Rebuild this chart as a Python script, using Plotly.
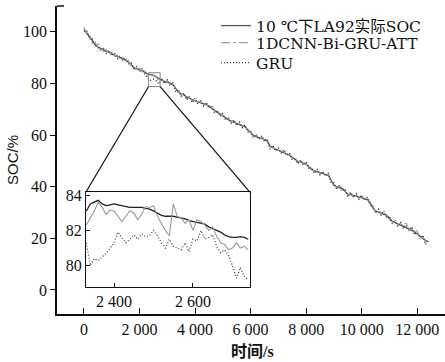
import plotly.graph_objects as go

# ---------------- data ----------------
time_s = list(range(0, 12500, 100))

soc_actual = [101.0, 99.6, 98.1, 96.4, 95.2, 94.1, 93.6, 93.0, 92.4, 92.1,
              91.5, 91.0, 90.4, 90.0, 89.7, 89.0, 88.4, 87.3, 86.1, 85.7,
              85.4, 84.9, 84.3, 83.6, 83.4, 83.2, 82.6, 81.8, 81.3, 80.8,
              80.5, 80.2, 79.6, 77.9, 76.6, 76.0, 75.4, 74.6, 74.1, 73.7,
              73.3, 72.9, 72.6, 72.2, 71.8, 71.3, 70.4, 69.5, 68.8, 68.2,
              67.4, 66.7, 66.0, 65.4, 65.0, 64.5, 64.1, 63.7, 63.2, 62.1,
              60.8, 59.9, 59.4, 59.1, 58.8, 58.3, 57.6, 55.8, 55.1, 54.6,
              54.2, 53.8, 53.4, 52.9, 52.2, 51.4, 50.5, 49.8, 49.5, 49.2,
              48.8, 47.7, 46.6, 46.1, 45.8, 45.5, 45.2, 44.9, 44.4, 42.6,
              40.6, 40.0, 39.7, 39.3, 38.2, 37.1, 36.9, 36.6, 36.4, 36.1,
              35.8, 35.5, 35.1, 33.9, 31.8, 30.6, 30.2, 29.9, 29.6, 28.9,
              27.6, 26.6, 26.1, 25.6, 25.2, 24.8, 24.3, 23.9, 23.4, 22.6,
              21.7, 20.8, 20.0, 19.2, 18.6]

soc_cnn = [101.8, 99.0, 98.9, 95.6, 96.0, 93.3, 94.2, 92.4, 93.1, 91.5,
           92.0, 90.6, 91.0, 89.5, 90.3, 88.6, 88.9, 86.8, 86.6, 85.2,
           85.9, 84.5, 84.8, 82.9, 82.7, 83.0, 82.4, 81.2, 81.7, 80.3,
           80.9, 79.8, 79.9, 77.4, 76.9, 75.6, 75.8, 74.1, 74.5, 73.2,
           73.6, 72.5, 72.9, 71.8, 72.1, 70.9, 70.8, 69.1, 69.2, 67.8,
           67.7, 66.3, 66.4, 65.0, 65.4, 64.1, 64.5, 63.3, 63.5, 61.7,
           61.2, 59.5, 59.8, 58.7, 59.2, 57.9, 58.1, 55.3, 55.5, 54.2,
           54.6, 53.4, 53.8, 52.5, 52.6, 51.0, 50.9, 49.4, 49.9, 48.8,
           49.1, 47.3, 47.0, 45.7, 46.2, 45.1, 45.6, 44.5, 44.8, 42.2,
           41.0, 39.6, 40.1, 38.9, 38.6, 36.7, 37.4, 36.2, 36.9, 35.7,
           36.2, 35.1, 35.6, 33.5, 32.3, 30.2, 30.7, 29.5, 30.1, 28.4,
           28.1, 26.2, 26.6, 25.1, 25.7, 24.3, 24.8, 23.4, 23.9, 22.1,
           22.2, 20.3, 20.6, 18.7, 19.1]

soc_gru = [100.2, 100.5, 97.2, 97.5, 94.3, 95.2, 92.6, 93.9, 91.6, 92.9,
           90.7, 91.8, 89.6, 90.8, 88.8, 89.9, 87.5, 88.0, 85.2, 86.5,
           84.6, 85.7, 83.5, 81.9, 81.2, 81.6, 81.0, 79.8, 82.0, 79.9,
           81.4, 79.1, 80.5, 76.7, 77.6, 75.0, 76.3, 73.7, 75.0, 72.6,
           74.2, 72.0, 73.5, 71.3, 72.7, 70.5, 71.3, 68.6, 69.7, 67.3,
           68.3, 65.8, 66.9, 64.6, 65.9, 63.7, 65.0, 62.9, 64.0, 61.2,
           61.6, 59.0, 60.3, 58.3, 59.7, 57.5, 58.5, 54.6, 56.0, 53.9,
           55.0, 53.0, 54.4, 52.1, 53.0, 50.4, 51.3, 48.9, 50.4, 48.3,
           49.6, 46.8, 47.4, 45.2, 46.7, 44.6, 46.0, 44.1, 45.3, 41.7,
           41.5, 38.9, 40.6, 38.4, 39.2, 36.0, 37.9, 35.8, 37.3, 35.2,
           36.8, 34.7, 36.0, 33.0, 32.7, 29.8, 31.3, 29.1, 30.7, 27.9,
           28.6, 25.7, 27.2, 24.6, 26.3, 23.8, 25.9, 22.9, 24.5, 21.4,
           23.0, 19.8, 21.2, 17.6, 19.5]

# zoomed detail (inset), 2 330 s – 2 740 s
inset_time = list(range(2330, 2750, 10))
inset_actual = [83.1, 83.5, 83.6, 83.7, 83.5, 83.4, 83.45, 83.5, 83.45, 83.4,
                83.35, 83.3, 83.3, 83.3, 83.3, 83.25, 83.2, 83.1, 82.95, 82.85,
                82.8, 82.8, 82.8, 82.75, 82.7, 82.65, 82.55, 82.5, 82.45, 82.4,
                82.35, 82.2, 82.1, 82.0, 81.9, 81.75, 81.65, 81.6, 81.6, 81.65,
                81.6, 81.5]
inset_cnn = [82.3, 82.7, 83.1, 83.6, 83.3, 82.9, 83.15, 83.1, 82.8, 82.5,
             82.8, 83.1, 83.0, 82.6, 82.9, 83.35, 83.3, 83.4, 82.8, 82.4,
             82.0, 81.7, 83.5, 82.8, 82.7, 82.4, 82.6, 82.0, 82.6, 82.5,
             82.3, 82.0, 82.2, 81.65, 81.3, 81.2, 80.9, 81.0, 81.3, 81.0,
             81.1, 80.9]
inset_gru = [81.3, 80.0, 80.4, 80.3, 80.5, 80.7, 81.0, 81.3, 81.9, 81.6,
             81.3, 81.5, 81.75, 81.5, 81.8, 81.65, 81.7, 82.0, 81.7, 81.3,
             81.0, 81.5, 81.1, 81.0, 80.9, 81.3, 80.8, 81.5, 81.4, 82.0,
             81.5, 81.6, 81.75, 81.1, 80.75, 80.9, 80.6, 80.0, 79.3, 79.9,
             79.4, 79.2]

series_names = ["10 ℃下LA92实际SOC", "1DCNN-Bi-GRU-ATT", "GRU"]
x_ticks = [0, 2000, 4000, 6000, 8000, 10000, 12000]
x_ticktext = ["0", "2 000", "4 000", "6 000", "8 000", "10 000", "12 000"]
y_ticks = [0, 20, 40, 60, 80, 100]
inset_x_ticks = [2400, 2600]
inset_x_ticktext = ["2 400", "2 600"]
inset_y_ticks = [80, 82, 84]

# ---------------- styling ----------------
FONT = "Liberation Serif, 'Times New Roman', 'Noto Sans CJK SC', serif"
LEG_FONT = "'DejaVu Serif', 'Noto Sans CJK SC', serif"

XR = [-970, 13000]
YR = [-9.3, 110]
IXR = [2329, 2744]
IYR = [78.8, 84.17]
IXD = [0.0747, 0.497]
IYD = [0.0877, 0.396]

fig = go.Figure()
styles = [dict(color="#555555", width=1.3, dash="solid"),
          dict(color="#a0a0a0", width=1.2, dash="dashdot"),
          dict(color="#333333", width=1.3, dash="1px,2px")]
legend_ids = ["legend", "legend2", "legend3"]

for name, ys, st, lg in zip(series_names, [soc_actual, soc_cnn, soc_gru], styles, legend_ids):
    fig.add_trace(go.Scatter(x=time_s, y=ys, mode="lines", name=name,
                             line=st, xaxis="x", yaxis="y", legend=lg))

inset_styles = [dict(color="#222222", width=1.3, dash="solid"),
                dict(color="#9a9a9a", width=1.1, dash="solid"),
                dict(color="#444444", width=1.3, dash="1px,2px")]
for name, ys, st in zip(series_names, [inset_actual, inset_cnn, inset_gru], inset_styles):
    fig.add_trace(go.Scatter(x=inset_time, y=ys, mode="lines", name=name,
                             line=st, xaxis="x2", yaxis="y2", showlegend=False))

# zoom box + connector lines
def px(t):
    return (t - XR[0]) / (XR[1] - XR[0])

def py(v):
    return (v - YR[0]) / (YR[1] - YR[0])

fig.add_shape(type="rect", xref="x", yref="y", x0=IXR[0], x1=IXR[1],
              y0=IYR[0], y1=IYR[1], line=dict(color="#888888", width=1))
fig.add_shape(type="line", xref="paper", yref="paper",
              x0=px(IXR[0]), y0=py(IYR[0]), x1=IXD[0], y1=IYD[1],
              line=dict(color="#111111", width=1.2))
fig.add_shape(type="line", xref="paper", yref="paper",
              x0=px(IXR[1]), y0=py(IYR[0]), x1=IXD[1], y1=IYD[1],
              line=dict(color="#111111", width=1.2))
# small cap at top of y axis
fig.add_shape(type="line", xref="paper", yref="paper",
              x0=0, y0=1, x1=7/388, y1=1, line=dict(color="#111111", width=1.5))

leg_common = dict(x=0.41, xanchor="left", yanchor="middle",
                  bgcolor="rgba(0,0,0,0)", borderwidth=0,
                  font=dict(family=LEG_FONT, size=15.5, color="#111"),
                  itemwidth=30)
row_y = [0.935, 0.8799, 0.815]

fig.update_layout(
    width=445, height=362,
    margin=dict(l=57, r=0, t=6, b=48),
    paper_bgcolor="white", plot_bgcolor="white",
    font=dict(family=FONT, size=16, color="#111111"),
    showlegend=True,
    legend=dict(y=row_y[0], **leg_common),
    legend2=dict(y=row_y[1], **leg_common),
    legend3=dict(y=row_y[2], **leg_common),
    xaxis=dict(domain=[0, 1], range=XR, tickvals=x_ticks, ticktext=x_ticktext,
               ticks="inside", ticklen=6, tickwidth=1.2, tickcolor="#111",
               showline=True, linecolor="#111", linewidth=1.5,
               showgrid=False, zeroline=False,
               tickfont=dict(family=FONT, size=16)),
    yaxis=dict(domain=[0, 1], range=YR, tickvals=y_ticks,
               ticks="outside", ticklen=5, tickwidth=1.2, tickcolor="#111",
               showline=True, linecolor="#111", linewidth=1.5,
               showgrid=False, zeroline=False,
               tickfont=dict(family=FONT, size=16)),
    xaxis2=dict(domain=IXD, range=IXR, anchor="y2", tickvals=inset_x_ticks,
                ticktext=inset_x_ticktext, ticks="inside", ticklen=4,
                tickcolor="#111", showline=True, mirror=True, linecolor="#111",
                linewidth=1.3, showgrid=False, zeroline=False,
                tickfont=dict(family=FONT, size=16)),
    yaxis2=dict(domain=IYD, range=IYR, anchor="x2", tickvals=inset_y_ticks,
                ticks="inside", ticklen=4, tickcolor="#111",
                showline=True, mirror=True, linecolor="#111", linewidth=1.3,
                showgrid=False, zeroline=False,
                tickfont=dict(family=FONT, size=16)),
    annotations=[
        dict(text="<b>时间/s</b>", xref="paper", yref="paper", x=0.505, y=-0.123,
             showarrow=False, xanchor="center", yanchor="middle",
             font=dict(family=FONT, size=16, color="#111")),
        dict(text="SOC/%", xref="paper", yref="paper", x=-0.116, y=0.5,
             showarrow=False, xanchor="center", yanchor="middle", textangle=-90,
             font=dict(family="'Liberation Sans', Arial, sans-serif", size=15, color="#111")),
    ],
)

fig.write_html("out.html", config={"displayModeBar": False},
               post_script="document.body.style.margin='0';")
